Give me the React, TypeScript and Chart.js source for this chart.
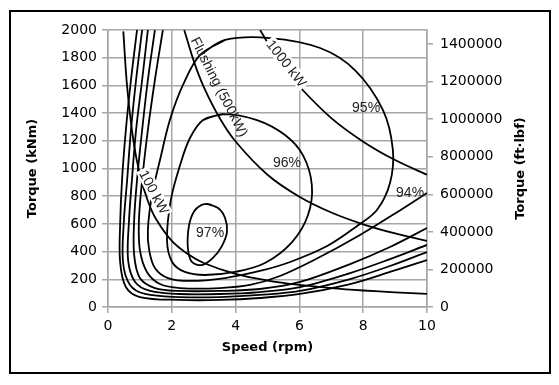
import React, { useEffect, useRef } from "react";
import { Chart, registerables } from "chart.js";
Chart.register(...registerables);

const FT_LBF_PER_KNM = 737.562;
const speedTicks = [0, 2, 4, 6, 8, 10];
const torqueTicks = [0, 200, 400, 600, 800, 1000, 1200, 1400, 1600, 1800, 2000];
const torqueFtLbfTicks = [0, 200000, 400000, 600000, 800000, 1000000, 1200000, 1400000];

// constant power lines
const p100Speed = [0.48, 0.6, 0.8, 1, 1.25, 1.5, 2, 2.5, 3, 4, 5, 6, 7, 8, 9, 10];
const p100Torque = [1990, 1590, 1195, 955, 765, 637, 477, 382, 318, 239, 191, 159, 136, 119, 106, 95];
const p500Speed = [2.39, 2.7, 3, 3.5, 4, 5, 6, 7, 8, 9, 10];
const p500Torque = [2000, 1768, 1590, 1365, 1195, 955, 796, 682, 597, 531, 477];
const p1000Speed = [4.77, 5, 5.5, 6, 7, 8, 9, 10];
const p1000Torque = [2000, 1910, 1736, 1592, 1364, 1194, 1061, 955];

// efficiency contours
const eff97Speed = [3.1, 3.45, 3.67, 3.73, 3.57, 3.29, 2.95, 2.63, 2.51, 2.51, 2.6, 2.79, 3.1, 3.45];
const eff97Torque = [744, 715, 643, 542, 440, 354, 303, 325, 412, 542, 643, 715, 744, 715];
const eff96Speed = [2.98, 3.61, 4.67, 5.55, 6.11, 6.39, 6.27, 5.77, 4.92, 3.98, 3.04, 2.41, 2.01, 1.85, 1.97, 2.26, 2.57, 2.98, 3.61];
const eff96Torque = [1350, 1393, 1350, 1242, 1097, 881, 664, 469, 318, 253, 231, 253, 325, 484, 773, 1025, 1220, 1350, 1393];
const eff95Speed = [2.88, 3.67, 5.08, 6.65, 7.74, 8.62, 8.93, 8.84, 8.43, 7.81, 6.87, 5.71, 4.76, 3.67, 2.57, 1.88, 1.47, 1.29, 1.25, 1.38, 1.63, 1.94, 2.35, 2.88, 3.67];
const eff95Torque = [1819, 1928, 1942, 1870, 1711, 1422, 1134, 895, 700, 585, 440, 325, 260, 209, 188, 209, 282, 412, 556, 809, 1061, 1350, 1603, 1819, 1928];
const eff94Speed = [1.72, 1.47, 1.25, 1.07, 0.97, 1.0, 1.22, 1.63, 2.26, 3.51, 4.45, 5.39, 6.55, 7.9, 9.15, 10];
const eff94Torque = [2000, 1639, 1278, 917, 628, 412, 253, 166, 137, 137, 159, 224, 350, 520, 697, 823];
const eff93Speed = [1.47, 1.25, 1.07, 0.91, 0.82, 0.82, 1.0, 1.47, 2.26, 3.51, 4.76, 6.02, 7.59, 8.84, 10];
const eff93Torque = [2000, 1639, 1278, 917, 628, 375, 209, 137, 116, 116, 130, 181, 310, 433, 570];
const eff92Speed = [1.25, 1.07, 0.88, 0.75, 0.66, 0.63, 0.85, 1.32, 2.26, 3.51, 4.76, 6.02, 7.59, 8.84, 10];
const eff92Torque = [2000, 1639, 1278, 917, 628, 339, 181, 116, 94, 94, 108, 144, 245, 346, 448];
const eff91Speed = [1.07, 0.88, 0.72, 0.6, 0.5, 0.47, 0.69, 1.16, 2.26, 3.51, 4.76, 6.02, 7.59, 8.84, 10];
const eff91Torque = [2000, 1639, 1278, 917, 628, 325, 159, 94, 72, 72, 87, 116, 202, 296, 397];
const eff90Speed = [0.91, 0.72, 0.56, 0.44, 0.38, 0.38, 0.56, 1.0, 2.26, 3.51, 4.76, 6.02, 7.59, 8.84, 10];
const eff90Torque = [2000, 1639, 1278, 917, 592, 325, 144, 72, 51, 51, 65, 94, 166, 253, 339];

// in-plot labels
const labelTexts = ["Flushing (500kW)", "1000 kW", "100 kW", "97%", "96%", "95%", "94%"];
const labelSpeeds = [3.5, 5.6, 1.45, 3.2, 5.61, 8.09, 9.47];
const labelTorques = [1590, 1760, 830, 541, 1047, 1444, 830];
const labelAngles = [63, 52, 62, 0, 0, 0, 0];
const labelBoxed = [false, true, true, false, false, false, false];

const curves: [number[], number[]][] = [
  [p100Speed, p100Torque],
  [p500Speed, p500Torque],
  [p1000Speed, p1000Torque],
  [eff97Speed, eff97Torque],
  [eff96Speed, eff96Torque],
  [eff95Speed, eff95Torque],
  [eff94Speed, eff94Torque],
  [eff93Speed, eff93Torque],
  [eff92Speed, eff92Torque],
  [eff91Speed, eff91Torque],
  [eff90Speed, eff90Torque],
];

const GRID = "#a6a6a6";
const TICK_FONT = { family: "DejaVu Sans", size: 14 };

const decorPlugin = {
  id: "decor",
  afterDatasetsDraw(chart: any) {
    const ctx = chart.ctx;
    const xs = chart.scales.x;
    const ys = chart.scales.y;
    ctx.save();
    ctx.font = "14px 'Liberation Sans', Arial, sans-serif";
    ctx.textAlign = "center";
    ctx.textBaseline = "middle";
    labelTexts.forEach((t, i) => {
      const px = xs.getPixelForValue(labelSpeeds[i]);
      const py = ys.getPixelForValue(labelTorques[i]);
      ctx.save();
      ctx.translate(px, py);
      ctx.rotate((labelAngles[i] * Math.PI) / 180);
      if (labelBoxed[i]) {
        const w = ctx.measureText(t).width;
        ctx.fillStyle = "#fff";
        ctx.fillRect(-w / 2 - 2, -7, w + 4, 14);
      }
      ctx.fillStyle = "#222";
      ctx.fillText(t, 0, 1);
      ctx.restore();
    });
    ctx.restore();
  },
  afterDraw(chart: any) {
    const ctx = chart.ctx;
    const a = chart.chartArea;
    const cy = (a.top + a.bottom) / 2;
    const cx = (a.left + a.right) / 2;
    ctx.save();
    ctx.fillStyle = "#000";
    ctx.font = "bold 13px 'DejaVu Sans', sans-serif";
    ctx.textAlign = "center";
    ctx.textBaseline = "middle";
    ctx.save();
    ctx.translate(33, cy);
    ctx.rotate(-Math.PI / 2);
    ctx.fillText("Torque (kNm)", 0, 0);
    ctx.restore();
    ctx.save();
    ctx.translate(521, cy);
    ctx.rotate(-Math.PI / 2);
    ctx.fillText("Torque (ft·lbf)", 0, 0);
    ctx.restore();
    ctx.fillText("Speed (rpm)", cx, 348);
    ctx.strokeStyle = "#000";
    ctx.lineWidth = 2;
    ctx.strokeRect(10, 11, 540, 362);
    ctx.restore();
  },
};

export default function App() {
  const ref = useRef<HTMLCanvasElement | null>(null);
  useEffect(() => {
    if (!ref.current) return;
    const datasets = curves.map(([sx, ty]) => ({
      data: sx.map((s, i) => ({ x: s, y: ty[i] })),
      showLine: true,
      borderColor: "#000",
      borderWidth: 1.8,
      pointRadius: 0,
      tension: 0.35,
      fill: false,
    }));
    const chart = new Chart(ref.current, {
      type: "scatter",
      data: { datasets },
      options: {
        animation: false,
        responsive: true,
        maintainAspectRatio: false,
        layout: { padding: { top: 30, left: 0, right: 0, bottom: 0 } },
        plugins: { legend: { display: false }, tooltip: { enabled: false } },
        scales: {
          x: {
            type: "linear",
            position: "bottom",
            min: 0,
            max: 10,
            afterBuildTicks: (s: any) => {
              s.ticks = speedTicks.map((v) => ({ value: v }));
            },
            afterFit: (s: any) => {
              s.height = 78;
            },
            ticks: { color: "#000", font: TICK_FONT, padding: 5, maxRotation: 0, callback: (v: any) => String(v) },
            grid: { color: GRID, lineWidth: 1.5, tickLength: 6 },
            border: { color: GRID, width: 1.5 },
          },
          y: {
            type: "linear",
            position: "left",
            min: 0,
            max: 2000,
            afterBuildTicks: (s: any) => {
              s.ticks = torqueTicks.map((v) => ({ value: v }));
            },
            afterFit: (s: any) => {
              s.width = 108;
            },
            ticks: { color: "#000", font: TICK_FONT, padding: 5, callback: (v: any) => String(v) },
            grid: { color: GRID, lineWidth: 1.5, tickLength: 6 },
            border: { color: GRID, width: 1.5 },
          },
          y2: {
            type: "linear",
            position: "right",
            min: 0,
            max: 2000 * FT_LBF_PER_KNM,
            afterBuildTicks: (s: any) => {
              s.ticks = torqueFtLbfTicks.map((v) => ({ value: v }));
            },
            afterFit: (s: any) => {
              s.width = 132;
            },
            ticks: { color: "#000", font: TICK_FONT, padding: 7, callback: (v: any) => String(v) },
            grid: { drawOnChartArea: false, color: GRID, lineWidth: 1.5, tickLength: 6 },
            border: { color: GRID, width: 1.5 },
          },
        },
      },
      plugins: [decorPlugin],
    });
    return () => chart.destroy();
  }, []);
  return (
    <div style={{ position: "absolute", left: 0, top: 0, width: 559, height: 385, background: "#fff" }}>
      <canvas ref={ref} />
    </div>
  );
}
